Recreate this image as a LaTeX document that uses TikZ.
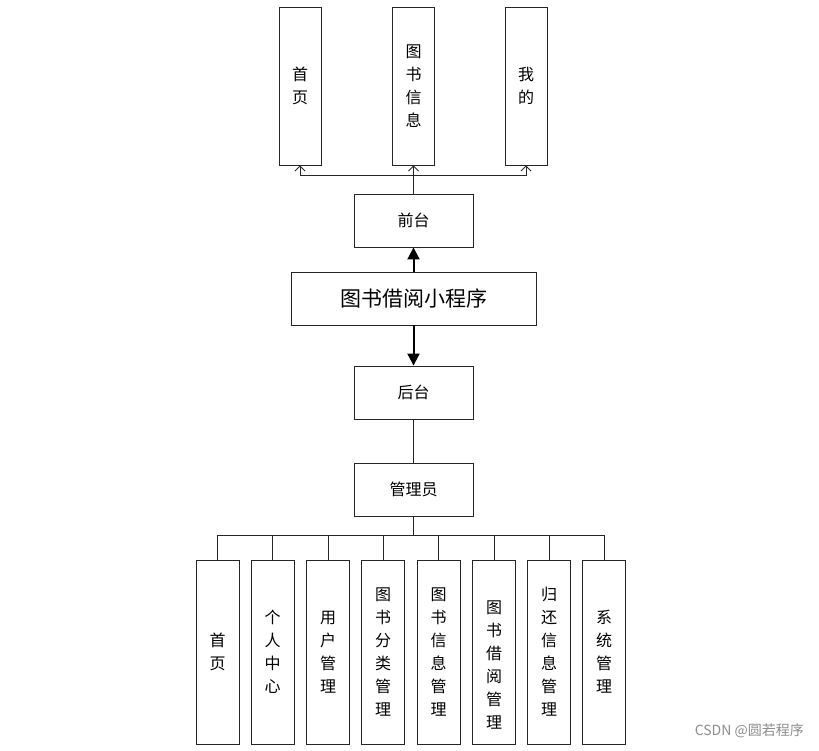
\documentclass[tikz,border=0pt]{standalone}
\usepackage{fontspec}
\setmainfont{Noto Sans CJK SC}
\usetikzlibrary{arrows.meta}
\begin{document}
\begin{tikzpicture}[x=1pt,y=-1pt,
  box/.style={draw=black!85,line width=0.9pt,fill=white,inner sep=0pt,
    font=\fontsize{16}{23}\selectfont,align=center},
  tall/.style={box,minimum width=42pt,minimum height=158pt},
  low/.style={box,minimum width=43pt,minimum height=184pt},
  mid/.style={box,minimum width=119pt,minimum height=53pt},
  conn/.style={line width=0.9pt,draw=black!85},
  openarr/.style={conn,-{Straight Barb[length=5pt,width=10pt]}},
  bigarr/.style={line width=2pt,-{Triangle[length=12pt,width=12pt]}}]
\useasboundingbox (0,0) rectangle (819,750);
% top boxes
\node[tall] (t1) at (300,86) {首\\页};
\node[tall] (t2) at (413.5,86) {图\\书\\信\\息};
\node[tall] (t3) at (526,86) {我\\的};
% middle
\node[mid] (qt) at (413.5,220.5) {前台};
\node[box,minimum width=245pt,minimum height=53pt,font=\fontsize{21}{24}\selectfont] (app) at (413.5,298.5) {图书借阅小程序};
\node[mid] (ht) at (413.5,392.5) {后台};
\node[mid] (gly) at (413.5,489.5) {管理员};
% bottom boxes
\node[low] (b1) at (217.5,652) {首\\页};
\node[low] (b2) at (272.5,652) {个\\人\\中\\心};
\node[low] (b3) at (328,652) {用\\户\\管\\理};
\node[low] (b4) at (383,652) {图\\书\\分\\类\\管\\理};
\node[low] (b5) at (438.5,652) {图\\书\\信\\息\\管\\理};
\node[low] (b6) at (494,652) {};
\node[box,draw=none,fill=none] (b6t) at (494,665) {图\\书\\借\\阅\\管\\理};
\node[low] (b7) at (549,652) {归\\还\\信\\息\\管\\理};
\node[low] (b8) at (604,652) {系\\统\\管\\理};
% watermark
\node[font=\fontsize{14}{16}\selectfont,text=black!45,anchor=east,inner sep=0pt] (wm) at (804,731) {CSDN @圆若程序};
% top connectors
\coordinate (bus1) at (413.5,175);
\draw[conn] (qt.north) -- (bus1);
\draw[openarr] (bus1) -| (t1.south);
\draw[openarr] (bus1) -- (t2.south);
\draw[openarr] (bus1) -| (t3.south);
% main arrows
\draw[bigarr] (app.north) -- (qt.south);
\draw[bigarr] (app.south) -- (ht.north);
\draw[conn] (ht.south) -- (gly.north);
% bottom connectors
\coordinate (bus2) at (413.5,535);
\draw[conn] (gly.south) -- (bus2);
\foreach \b in {b1,b2,b3,b4,b5,b6,b7,b8}{
  \draw[conn] (bus2) -| (\b.north);
}
\end{tikzpicture}
\end{document}
